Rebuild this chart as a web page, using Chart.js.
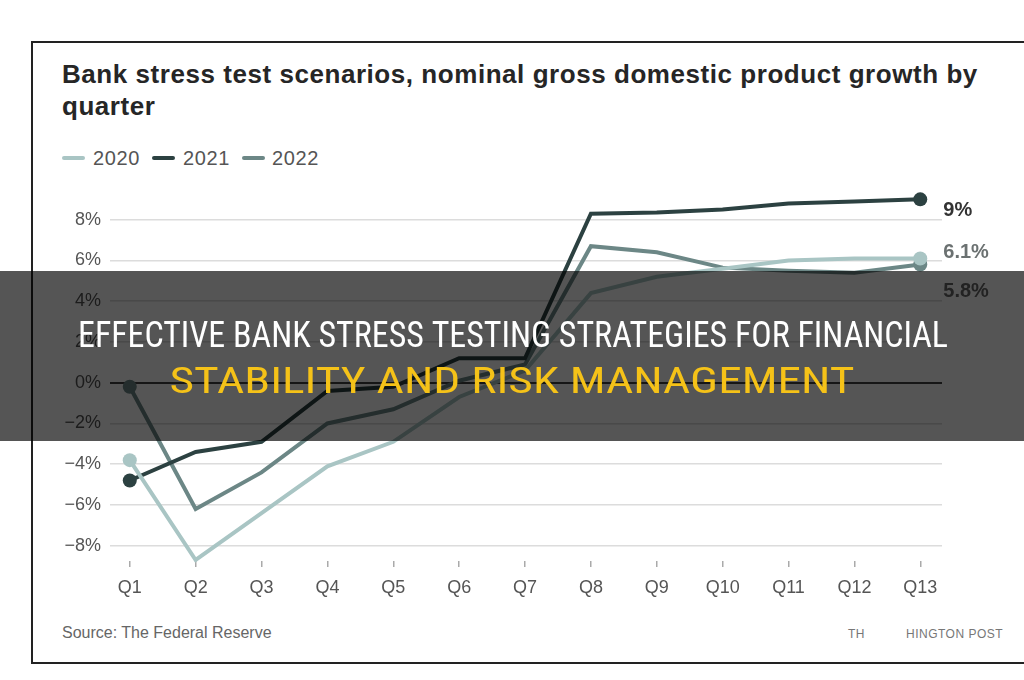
<!DOCTYPE html>
<html lang="en">

<head>
    <meta charset="UTF-8">
    <title>Bank stress test scenarios</title>
    <style>
        body {
            margin: 0;
            width: 1024px;
            height: 680px;
            overflow: hidden;
            background: #fff;
            font-family: "Liberation Sans", Arial, sans-serif;
            position: relative;
        }

        #frame {
            position: absolute;
            left: 31px;
            top: 41px;
            width: 1010px;
            height: 619px;
            border: 2px solid #222;
        }

        #title {
            position: absolute;
            left: 62px;
            top: 58px;
            font-size: 26px;
            line-height: 32px;
            letter-spacing: 0.55px;
            font-weight: bold;
            color: #262626;
            white-space: nowrap;
        }

        .legend-line {
            position: absolute;
            top: 156px;
            width: 23px;
            height: 4px;
            border-radius: 2px;
        }

        .legend-text {
            position: absolute;
            top: 147px;
            font-size: 20px;
            letter-spacing: 0.6px;
            color: #555;
        }

        #source {
            position: absolute;
            left: 62px;
            top: 624px;
            font-size: 16px;
            color: #666;
        }

        .credit {
            position: absolute;
            top: 627px;
            font-size: 12px;
            color: #777;
            letter-spacing: 0.5px;
        }

        #chart-box {
            position: absolute;
            left: 0;
            top: 0;
            width: 1024px;
            height: 680px;
            z-index: 2;
        }
    </style>
    <script src="https://cdn.jsdelivr.net/npm/chart.js"></script>
</head>

<body>
    <div id="frame"></div>
    <div id="title">Bank stress test scenarios, nominal gross domestic product growth by<br>quarter</div>

    <div class="legend-line" style="left:62px; background:#a9c5c4"></div>
    <div class="legend-text" style="left:93px">2020</div>
    <div class="legend-line" style="left:152px; background:#2c4141"></div>
    <div class="legend-text" style="left:183px">2021</div>
    <div class="legend-line" style="left:242px; background:#6c8786"></div>
    <div class="legend-text" style="left:272px">2022</div>

    <div id="source">Source: The Federal Reserve</div>
    <div class="credit" style="left:848px">TH</div>
    <div class="credit" style="left:906px">HINGTON POST</div>

    <div id="chart-box">
        <canvas id="gdpChart"></canvas>
    </div>

    <script>
        // data
        const quarters = ['Q1', 'Q2', 'Q3', 'Q4', 'Q5', 'Q6', 'Q7', 'Q8', 'Q9', 'Q10', 'Q11', 'Q12', 'Q13'];
        const growth2020 = [-3.8, -8.7, -6.4, -4.1, -2.9, -0.7, 0.6, 4.4, 5.2, 5.6, 6.0, 6.1, 6.1];
        const growth2021 = [-4.8, -3.4, -2.9, -0.4, -0.2, 1.2, 1.2, 8.3, 8.35, 8.5, 8.8, 8.9, 9.0];
        const growth2022 = [-0.2, -6.2, -4.4, -2.0, -1.3, 0.1, 0.9, 6.7, 6.4, 5.65, 5.5, 5.4, 5.8];
        const yTicks = [-8, -6, -4, -2, 0, 2, 4, 6, 8];

        const seriesNames = ['2020', '2021', '2022'];
        const seriesColors = ['#a9c5c4', '#2c4141', '#6c8786'];

        function toPoints(values) {
            return values.map((v, i) => ({ x: i + 1, y: v }));
        }

        // label at the end of each line, nudged so they don't overlap
        const endLabels = {
            id: 'endLabels',
            afterDatasetsDraw(chart) {
                const ctx = chart.ctx;
                const nudge = [-6, 11, 27];
                const colors = ['#6b7171', '#333', '#666'];
                ctx.save();
                ctx.font = 'bold 20px "Liberation Sans", Arial, sans-serif';
                ctx.textBaseline = 'middle';
                ctx.textAlign = 'left';
                chart.data.datasets.forEach((ds, i) => {
                    const pts = chart.getDatasetMeta(i).data;
                    const last = pts[pts.length - 1];
                    const val = ds.data[ds.data.length - 1].y;
                    ctx.fillStyle = colors[i];
                    ctx.fillText(val + '%', last.x + 23, last.y + nudge[i]);
                });
                ctx.restore();
            }
        };

        // dark banner with headline across the middle
        const banner = {
            id: 'banner',
            afterDraw(chart) {
                const ctx = chart.ctx;
                ctx.save();
                ctx.fillStyle = 'rgba(0, 0, 0, 0.667)';
                ctx.fillRect(0, 271, chart.width, 170);

                function fitText(text, cx, cy, w, color) {
                    ctx.font = '36px "Liberation Sans Narrow", "Roboto Condensed", Roboto, sans-serif';
                    const m = ctx.measureText(text).width;
                    ctx.save();
                    ctx.translate(cx, cy);
                    ctx.scale(w / m, 1);
                    ctx.fillStyle = color;
                    ctx.textAlign = 'center';
                    ctx.textBaseline = 'middle';
                    ctx.fillText(text, 0, 0);
                    ctx.restore();
                }
                fitText('EFFECTIVE BANK STRESS TESTING STRATEGIES FOR FINANCIAL', 513, 338, 870, '#ffffff');
                fitText('STABILITY AND RISK MANAGEMENT', 512, 384, 685, '#f5c218');
                ctx.restore();
            }
        };

        function createGdpChart() {
            const ctx = document.getElementById('gdpChart').getContext('2d');
            const series = [growth2020, growth2021, growth2022];
            new Chart(ctx, {
                type: 'line',
                data: {
                    datasets: series.map((s, i) => ({
                        label: seriesNames[i],
                        data: toPoints(s),
                        borderColor: seriesColors[i],
                        backgroundColor: seriesColors[i],
                        borderWidth: 4,
                        tension: 0,
                        clip: false,
                        pointRadius: (c) => (c.dataIndex === 0 || c.dataIndex === s.length - 1) ? 7 : 0,
                        pointBorderWidth: 0,
                        pointHoverRadius: 0
                    }))
                },
                options: {
                    responsive: true,
                    maintainAspectRatio: false,
                    animation: false,
                    layout: {
                        padding: { left: 60, right: 82, top: 179, bottom: 79 }
                    },
                    plugins: {
                        legend: { display: false },
                        tooltip: { enabled: false }
                    },
                    scales: {
                        x: {
                            type: 'linear',
                            min: 0.7,
                            max: 13.33,
                            afterBuildTicks: (scale) => {
                                scale.ticks = quarters.map((q, i) => ({ value: i + 1 }));
                            },
                            afterFit: (scale) => { scale.height = 40; },
                            border: { display: false },
                            grid: {
                                drawOnChartArea: false,
                                drawTicks: true,
                                tickLength: 6,
                                color: '#aaa',
                                lineWidth: 1.5
                            },
                            ticks: {
                                padding: 10,
                                color: '#555',
                                font: { size: 18, family: '"Liberation Sans", Arial, sans-serif' },
                                callback: (v) => quarters[v - 1]
                            }
                        },
                        y: {
                            min: -8.75,
                            max: 10,
                            afterBuildTicks: (scale) => {
                                scale.ticks = yTicks.map(v => ({ value: v }));
                            },
                            afterFit: (scale) => { scale.width = 50; },
                            border: { display: false },
                            grid: {
                                drawTicks: false,
                                color: (c) => c.tick && c.tick.value === 0 ? '#444' : '#dcdcdc',
                                lineWidth: (c) => c.tick && c.tick.value === 0 ? 2 : 1.5
                            },
                            ticks: {
                                padding: 9,
                                color: '#555',
                                font: { size: 18, family: '"Liberation Sans", Arial, sans-serif' },
                                callback: (v) => (v < 0 ? '\u2212' + Math.abs(v) : v) + '%'
                            }
                        }
                    }
                },
                plugins: [endLabels, banner]
            });
        }

        window.onload = function () {
            createGdpChart();
        };
    </script>

</body>

</html>
